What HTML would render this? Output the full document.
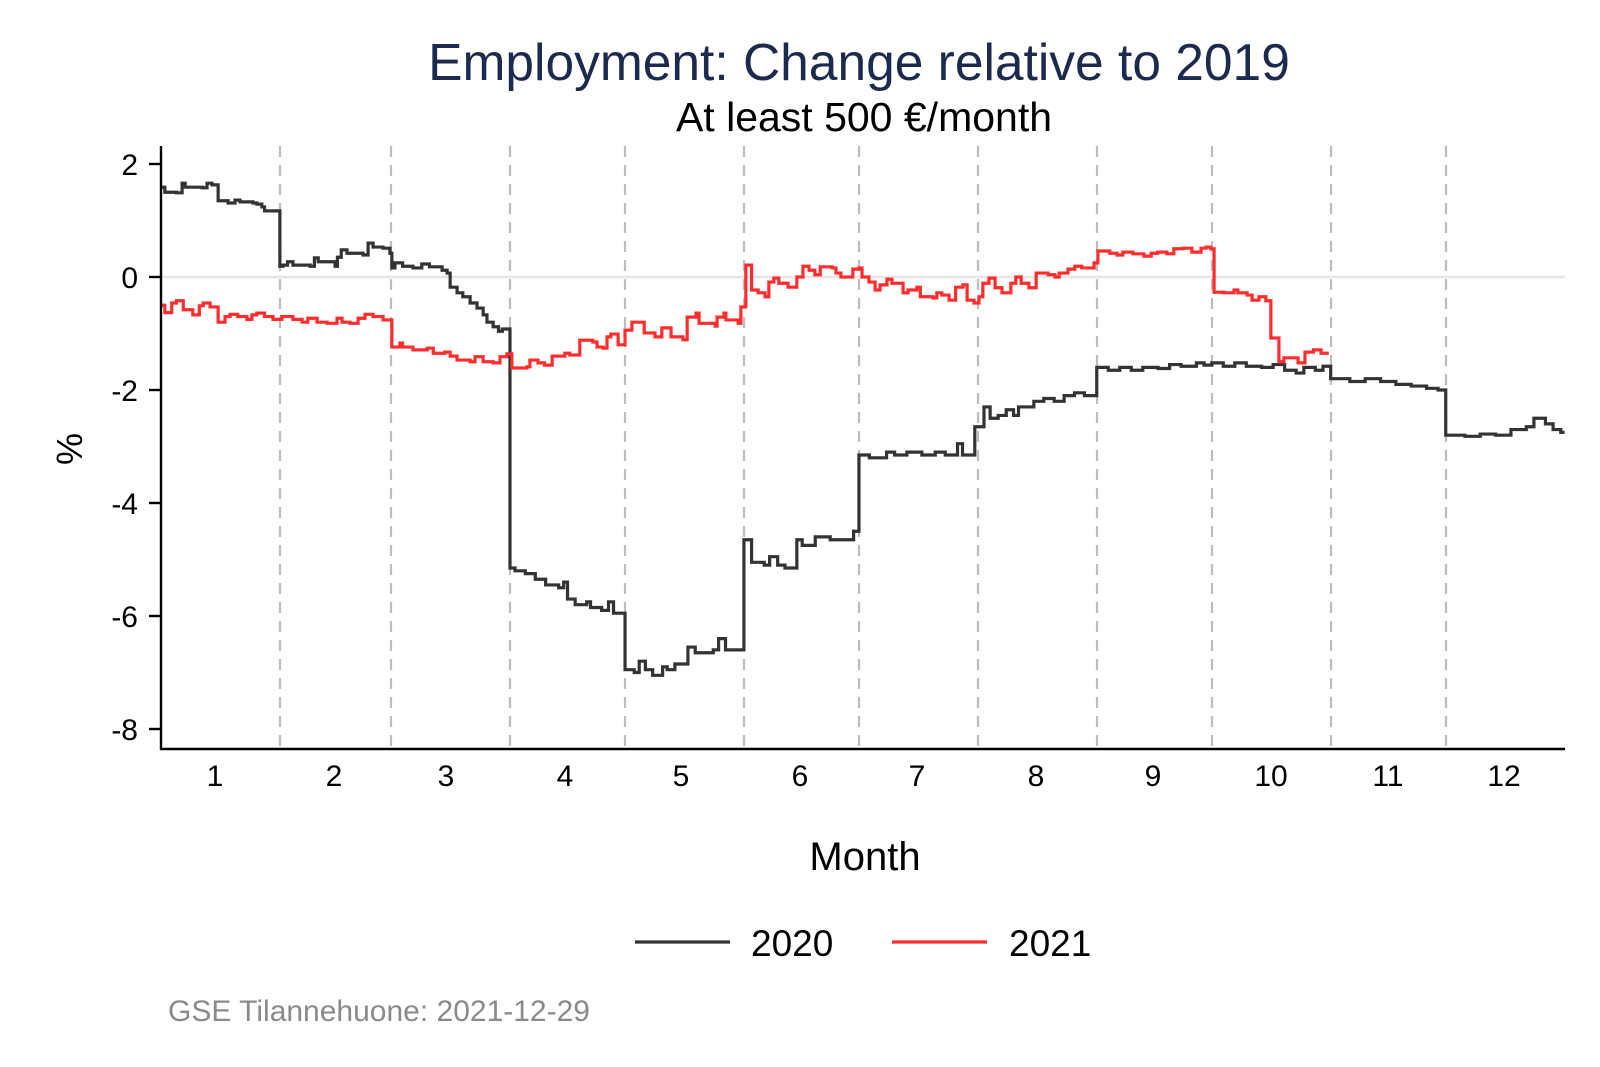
<!DOCTYPE html>
<html><head><meta charset="utf-8"><style>
html,body{margin:0;padding:0;background:#fff;}
svg{display:block;}
text{font-family:"Liberation Sans",Arial,sans-serif;}
</style></head><body>
<svg width="1600" height="1067" viewBox="0 0 1600 1067" xmlns="http://www.w3.org/2000/svg">
<rect width="1600" height="1067" fill="#fff"/>
<text x="859" y="80" font-size="51.5" fill="#1c2a4d" text-anchor="middle">Employment: Change relative to 2019</text>
<text x="864" y="131" font-size="41" fill="#000" text-anchor="middle">At least 500 €/month</text>

<line x1="161" y1="277" x2="1565" y2="277" stroke="#e6e6e6" stroke-width="2.5"/>
<g stroke="#bdbdbd" stroke-width="2.2" stroke-dasharray="11,8">
<line x1="280" y1="146" x2="280" y2="749"/>
<line x1="391" y1="146" x2="391" y2="749"/>
<line x1="510" y1="146" x2="510" y2="749"/>
<line x1="625" y1="146" x2="625" y2="749"/>
<line x1="744" y1="146" x2="744" y2="749"/>
<line x1="859" y1="146" x2="859" y2="749"/>
<line x1="978" y1="146" x2="978" y2="749"/>
<line x1="1097" y1="146" x2="1097" y2="749"/>
<line x1="1212" y1="146" x2="1212" y2="749"/>
<line x1="1331" y1="146" x2="1331" y2="749"/>
<line x1="1446" y1="146" x2="1446" y2="749"/>
</g>

<g transform="translate(161,277) scale(3.835,-56.5)" fill="none" stroke-linejoin="miter">
<path vector-effect="non-scaling-stroke" stroke="#333" stroke-width="3.2" d="M0,1.59 H1 V1.5 H4 V1.49 H5.5 V1.66 H6.3 V1.59 H10.7 V1.58 H12 V1.66 H13.3 V1.63 H14.9 V1.35 H17.5 V1.31 H19.3 V1.36 H20.6 V1.33 H24 V1.31 H25 V1.29 H26.3 V1.24 H27 V1.17 H31 V0.19 H31.8 V0.21 H33 V0.27 H34.4 V0.21 H38.9 V0.19 H40 V0.34 H41 V0.27 H45.4 V0.19 H46 V0.35 H47 V0.48 H48.5 V0.42 H52.7 V0.39 H54 V0.6 H55.3 V0.53 H57.9 V0.51 H59.7 V0.42 H60.2 V0.16 H61 V0.25 H63 V0.19 H65.7 V0.16 H68 V0.23 H70 V0.18 H73.3 V0.12 H74.6 V0.07 H75.4 V-0.18 H77.2 V-0.28 H78.7 V-0.35 H80.6 V-0.46 H82.4 V-0.55 H84 V-0.67 H85 V-0.8 H86.6 V-0.88 H88 V-0.96 H89 V-0.92 H91 V-5.15 H92.3 V-5.2 H95 V-5.25 H97.6 V-5.35 H100.3 V-5.45 H103.7 V-5.5 H105 V-5.4 H106 V-5.7 H108 V-5.8 H111 V-5.75 H112 V-5.85 H114.9 V-5.9 H116.7 V-5.75 H118 V-5.95 H121 V-6.95 H123.4 V-7.0 H124.7 V-6.8 H126.3 V-6.95 H128.2 V-7.05 H130.8 V-6.9 H132 V-6.95 H134 V-6.85 H137.4 V-6.55 H139.3 V-6.65 H144 V-6.6 H145.4 V-6.4 H147.2 V-6.6 H152 V-4.65 H154 V-5.05 H157.3 V-5.1 H158.7 V-4.95 H160.8 V-5.1 H162.7 V-5.15 H165.8 V-4.65 H167.2 V-4.75 H170.6 V-4.6 H174.5 V-4.65 H180.6 V-4.5 H182 V-3.15 H184.7 V-3.2 H189.2 V-3.1 H191.3 V-3.15 H194.5 V-3.1 H198.4 V-3.15 H201.9 V-3.1 H204.5 V-3.15 H207.7 V-2.95 H209 V-3.15 H212.2 V-2.65 H214.6 V-2.3 H216.2 V-2.5 H218.3 V-2.45 H220.4 V-2.35 H222.3 V-2.45 H223.6 V-2.3 H227.6 V-2.2 H230.2 V-2.15 H232.9 V-2.2 H235.5 V-2.1 H238.2 V-2.05 H240.8 V-2.1 H244 V-1.6 H247 V-1.65 H250 V-1.6 H253 V-1.65 H256 V-1.6 H260 V-1.62 H263 V-1.55 H266 V-1.58 H270 V-1.52 H272 V-1.56 H274 V-1.52 H277 V-1.58 H280 V-1.52 H283 V-1.58 H287 V-1.6 H290 V-1.55 H293 V-1.65 H296 V-1.7 H298 V-1.6 H301 V-1.65 H303 V-1.58 H305 V-1.8 H310 V-1.85 H314 V-1.8 H318 V-1.85 H322 V-1.9 H326 V-1.93 H330 V-1.97 H333 V-2.0 H335 V-2.8 H340 V-2.82 H344 V-2.78 H348 V-2.8 H352 V-2.7 H356 V-2.65 H358 V-2.5 H361 V-2.6 H363 V-2.7 H365 V-2.75 H366"/>
<path vector-effect="non-scaling-stroke" stroke="#ff2d2d" stroke-width="3.2" d="M0,-0.5 H1 V-0.63 H2.8 V-0.46 H4 V-0.42 H5.8 V-0.58 H8.3 V-0.67 H10 V-0.51 H11 V-0.46 H12.8 V-0.53 H14.9 V-0.8 H16.7 V-0.7 H18 V-0.66 H20 V-0.7 H22.4 V-0.75 H23.7 V-0.67 H25 V-0.64 H27 V-0.7 H29.2 V-0.75 H31.5 V-0.7 H34.4 V-0.75 H36.8 V-0.8 H38.3 V-0.73 H40.7 V-0.8 H43.3 V-0.82 H45.9 V-0.73 H47.2 V-0.8 H49.3 V-0.82 H51.4 V-0.73 H53.2 V-0.66 H55.3 V-0.7 H57.9 V-0.76 H60.2 V-1.24 H62.3 V-1.17 H63 V-1.24 H65.7 V-1.29 H69.4 V-1.26 H71 V-1.35 H74 V-1.33 H75.4 V-1.4 H77.2 V-1.47 H80.6 V-1.5 H81.9 V-1.41 H84 V-1.5 H86.6 V-1.52 H88.4 V-1.41 H90.2 V-1.36 H91.5 V-1.61 H95.4 V-1.59 H96.2 V-1.47 H98.3 V-1.52 H100 V-1.56 H102 V-1.4 H105.3 V-1.35 H106.6 V-1.38 H109.2 V-1.12 H112.6 V-1.15 H113.7 V-1.24 H115.3 V-1.26 H116.3 V-1.06 H117.3 V-1.01 H119.2 V-1.2 H121 V-0.94 H122.8 V-0.8 H126 V-0.99 H128.8 V-1.06 H130.6 V-0.9 H133 V-1.06 H136.1 V-1.11 H137.2 V-0.71 H139.5 V-0.64 H140.3 V-0.82 H144.5 V-0.87 H145 V-0.71 H146.8 V-0.64 H147.3 V-0.76 H150.5 V-0.82 H151.2 V-0.53 H152.5 V0.21 H154 V-0.23 H155.7 V-0.28 H157.5 V-0.35 H158.5 V-0.09 H159.8 V-0.02 H161.1 V-0.11 H163.5 V-0.18 H165.8 V0 H167.4 V0.19 H169 V0.12 H170.5 V0.04 H171.9 V0.18 H175 V0.16 H176 V0.07 H177.3 V0 H180.4 V0.14 H182 V0.16 H182.8 V0 H184.6 V-0.09 H186.2 V-0.23 H187.5 V-0.14 H189.3 V-0.04 H190.6 V-0.11 H193.5 V-0.28 H194.8 V-0.23 H197.1 V-0.18 H198 V-0.35 H201.3 V-0.37 H202.3 V-0.28 H203.6 V-0.32 H205.5 V-0.41 H207.2 V-0.18 H209.1 V-0.14 H210.2 V-0.41 H212 V-0.46 H213.3 V-0.35 H214.3 V-0.11 H215.9 V-0.02 H217.5 V-0.19 H219.3 V-0.28 H221.6 V-0.11 H222.9 V0 H224.3 V-0.11 H226.3 V-0.19 H228.2 V0.07 H231.3 V0.04 H233.1 V0 H234.2 V0.07 H236.5 V0.14 H238.3 V0.19 H240.1 V0.16 H243.3 V0.25 H244.3 V0.46 H247.4 V0.42 H249.3 V0.39 H250.8 V0.44 H253.4 V0.41 H256.3 V0.37 H258.2 V0.42 H259.9 V0.44 H262.3 V0.41 H264.1 V0.5 H266.5 V0.51 H268.8 V0.44 H271.2 V0.51 H272.5 V0.53 H273.7 V0.5 H274.6 V-0.27 H277.2 V-0.28 H279.8 V-0.23 H280.8 V-0.28 H283.2 V-0.32 H284.5 V-0.41 H286.3 V-0.35 H288.1 V-0.42 H289.4 V-1.08 H291.5 V-1.5 H292.8 V-1.43 H296.5 V-1.52 H298.3 V-1.33 H300.5 V-1.29 H302.5 V-1.35 H304.5"/>
</g>

<g stroke="#000" stroke-width="2.4">
<line x1="161" y1="146" x2="161" y2="750"/>
<line x1="160" y1="749" x2="1565" y2="749"/>
<line x1="149" y1="164" x2="161" y2="164"/>
<line x1="149" y1="277" x2="161" y2="277"/>
<line x1="149" y1="390" x2="161" y2="390"/>
<line x1="149" y1="503" x2="161" y2="503"/>
<line x1="149" y1="616" x2="161" y2="616"/>
<line x1="149" y1="729" x2="161" y2="729"/>
</g>
<g font-size="30" fill="#000" text-anchor="end">
<text x="138" y="175">2</text>
<text x="138" y="288">0</text>
<text x="138" y="401">-2</text>
<text x="138" y="514">-4</text>
<text x="138" y="627">-6</text>
<text x="138" y="740">-8</text>
</g>
<g font-size="30" fill="#000" text-anchor="middle">
<text x="215" y="786">1</text>
<text x="334" y="786">2</text>
<text x="446" y="786">3</text>
<text x="565" y="786">4</text>
<text x="681" y="786">5</text>
<text x="800" y="786">6</text>
<text x="917" y="786">7</text>
<text x="1036" y="786">8</text>
<text x="1153" y="786">9</text>
<text x="1271" y="786">10</text>
<text x="1388" y="786">11</text>
<text x="1504" y="786">12</text>
</g>
<text x="0" y="0" font-size="36" fill="#000" text-anchor="middle" transform="translate(82,449) rotate(-90)">%</text>
<text x="865" y="870" font-size="40" fill="#000" text-anchor="middle">Month</text>

<line x1="635" y1="942" x2="730" y2="942" stroke="#333" stroke-width="3.2"/>
<text x="751" y="956" font-size="37" fill="#000">2020</text>
<line x1="892" y1="942" x2="987" y2="942" stroke="#ff2d2d" stroke-width="3.2"/>
<text x="1009" y="956" font-size="37" fill="#000">2021</text>

<text x="168" y="1021" font-size="30" fill="#8a8a8a">GSE Tilannehuone: 2021-12-29</text>
</svg>
</body></html>
